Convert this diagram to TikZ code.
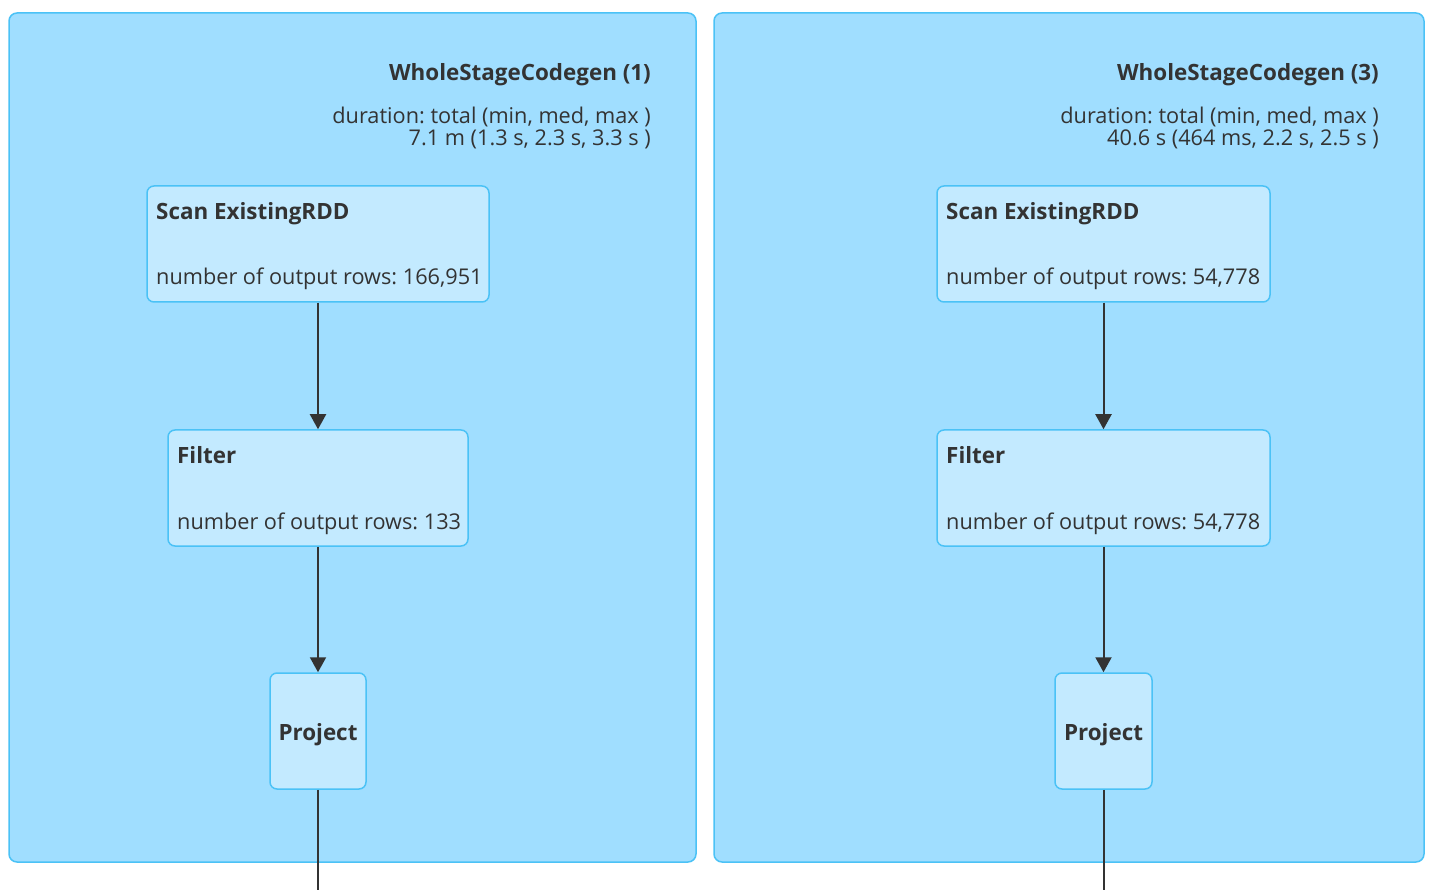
\documentclass[tikz,border=0pt]{standalone}
\usepackage{fontspec}
\setmainfont{Open Sans}
\usetikzlibrary{arrows.meta}
\definecolor{clfill}{HTML}{A0DEFF}
\definecolor{clborder}{HTML}{4BC2F6}
\definecolor{opfill}{HTML}{C3EAFF}
\definecolor{txt}{HTML}{333333}
\tikzset{
  cluster/.style={draw=clborder, fill=clfill, line width=1.5pt, rounded corners=8pt, inner sep=0pt},
  opbox/.style={draw=clborder, fill=opfill, line width=1.5pt, rounded corners=7pt, inner sep=0pt, minimum height=116pt},
  lbl/.style={inner sep=0pt, text=txt, font=\fontsize{21.7}{25}\selectfont},
  blbl/.style={lbl, font=\fontsize{22.4}{25}\selectfont\bfseries},
  edge/.style={draw=txt, line width=2pt, -{Triangle[length=15pt,width=16pt]}},
  tail/.style={draw=txt, line width=2pt}
}
\begin{document}
\frenchspacing
\begin{tikzpicture}[x=1pt,y=-1pt]
\useasboundingbox (0,0) rectangle (1446,890);
% clusters
\node[cluster, minimum width=687pt, minimum height=849pt] (c1) at (352.5,437.5) {};
\node[cluster, minimum width=710pt, minimum height=849pt] (c3) at (1069,437.5) {};
% cluster labels
\node[blbl, anchor=base east] (t1) at (651,80.5) {WholeStageCodegen (1)};
\node[lbl, anchor=base east] (d1a) at (651,124) {duration: total (min, med, max )};
\node[lbl, anchor=base east] (d1b) at (651,146) {7.1 m (1.3 s, 2.3 s, 3.3 s )};
\node[blbl, anchor=base east] (t3) at (1379,80.5) {WholeStageCodegen (3)};
\node[lbl, anchor=base east] (d3a) at (1379,124) {duration: total (min, med, max )};
\node[lbl, anchor=base east] (d3b) at (1379,146) {40.6 s (464 ms, 2.2 s, 2.5 s )};
% left operators
\node[opbox, minimum width=342pt] (s1) at (318,244) {};
\node[opbox, minimum width=300pt] (f1) at (318,488) {};
\node[opbox, minimum width=96pt] (p1) at (318,731) {};
\node[blbl, anchor=base west] (s1t) at (156,219.5) {Scan ExistingRDD};
\node[lbl, anchor=base west] (s1r) at (156,285) {number of output rows: 166,951};
\node[blbl, anchor=base west] (f1t) at (177,463.5) {Filter};
\node[lbl, anchor=base west] (f1r) at (177,529) {number of output rows: 133};
\node[blbl, anchor=base] (p1t) at (318,740) {Project};
% right operators
\node[opbox, minimum width=333pt] (s3) at (1103.5,244) {};
\node[opbox, minimum width=333pt] (f3) at (1103.5,488) {};
\node[opbox, minimum width=97pt] (p3) at (1103.5,731) {};
\node[blbl, anchor=base west] (s3t) at (946,219.5) {Scan ExistingRDD};
\node[lbl, anchor=base west] (s3r) at (946,285) {number of output rows: 54,778};
\node[blbl, anchor=base west] (f3t) at (946,463.5) {Filter};
\node[lbl, anchor=base west] (f3r) at (946,529) {number of output rows: 54,778};
\node[blbl, anchor=base] (p3t) at (1103.5,740) {Project};
% edges
\coordinate (e1) at (318,892);
\coordinate (e3) at (1103.5,892);
\draw[edge] (s1.south) -- (f1.north);
\draw[edge] (f1.south) -- (p1.north);
\draw[tail] (p1.south) -- (e1);
\draw[edge] (s3.south) -- (f3.north);
\draw[edge] (f3.south) -- (p3.north);
\draw[tail] (p3.south) -- (e3);
\end{tikzpicture}
\end{document}
